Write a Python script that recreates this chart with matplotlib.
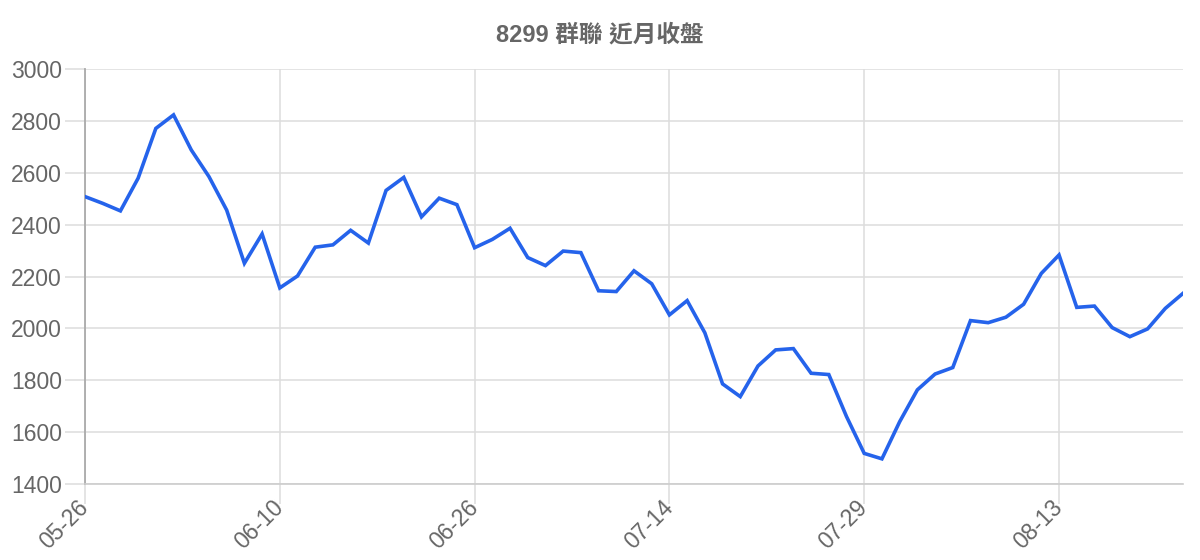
import matplotlib
matplotlib.use('Agg')
import matplotlib.pyplot as plt

# closing prices, 8299
closes = [2508, 2482, 2453, 2579, 2771, 2823, 2688, 2585, 2456, 2251,
          2364, 2156, 2202, 2313, 2322, 2378, 2329, 2532, 2582, 2430,
          2502, 2477, 2311, 2343, 2386, 2273, 2242, 2298, 2292, 2145,
          2142, 2222, 2172, 2052, 2107, 1983, 1786, 1737, 1855, 1917,
          1922, 1827, 1822, 1660, 1518, 1497, 1640, 1763, 1824, 1849,
          2030, 2022, 2043, 2093, 2212, 2283, 2081, 2086, 2003, 1968,
          1998, 2077, 2135]
tick_idx = [0, 11, 22, 33, 44, 55]
tick_labels = ['05-26', '06-10', '06-26', '07-14', '07-29', '08-13']
y_ticks = [1400, 1600, 1800, 2000, 2200, 2400, 2600, 2800, 3000]
title = '8299 群聯 近月收盤'

plt.rcParams['font.family'] = ['Liberation Sans', 'Noto Sans CJK TC', 'DejaVu Sans']

fig = plt.figure(figsize=(12, 5.6), dpi=100)
ax = fig.add_axes([85 / 1200, 1 - 484 / 560, (1183 - 85) / 1200, (484 - 69) / 560])

ax.plot(range(len(closes)), closes, color='#2563eb', linewidth=2.6,
        solid_joinstyle='miter', zorder=3)

ax.set_xlim(0, len(closes) - 1)
ax.set_ylim(1400, 3000)
ax.set_yticks(y_ticks)
ax.set_xticks(tick_idx)
ax.set_xticklabels(tick_labels, rotation=45, ha='right', va='center',
                   rotation_mode='anchor')

ax.grid(True, color='#dddddd', linewidth=1.1)
ax.set_axisbelow(True)
ax.tick_params(axis='both', length=14.5, width=1.1, color='#dddddd',
               labelcolor='#666666', labelsize=16.5, pad=2)
ax.tick_params(axis='x', pad=0)

for s in ['top', 'right']:
    ax.spines[s].set_visible(False)
ax.spines['left'].set_color('#aaaaaa')
ax.spines['left'].set_linewidth(1.3)
ax.spines['bottom'].set_color('#cccccc')
ax.spines['bottom'].set_linewidth(1.2)

fig.text(0.5, 1 - 35 / 560, title, ha='center', va='center',
         fontsize=17, fontweight='bold', color='#666666')

fig.savefig('out.png', dpi=100)
